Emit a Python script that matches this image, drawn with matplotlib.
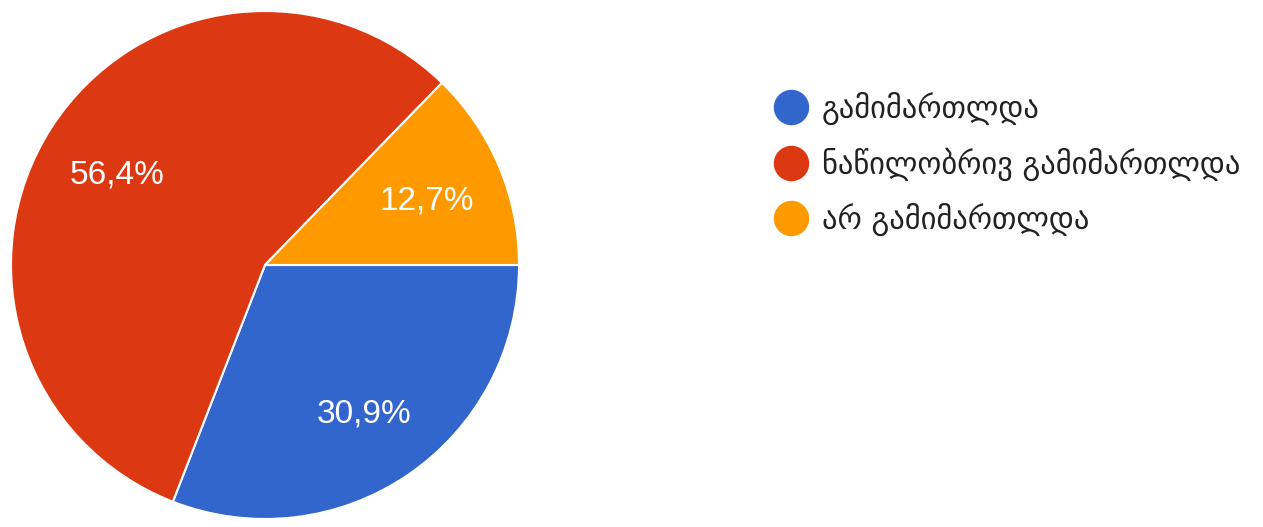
import matplotlib.pyplot as plt
from matplotlib.lines import Line2D

labels = ["გამიმართლდა", "ნაწილობრივ გამიმართლდა", "არ გამიმართლდა"]
counts = [17, 31, 7]
colors = ["#3366CC", "#DC3912", "#FF9900"]


def pct_fmt(p):
    return f"{p:.1f}%".replace(".", ",")


fig = plt.figure(figsize=(12.63, 5.27), dpi=100)

# pie centred near (265, 265) px, radius ~254 px
ax = fig.add_axes([11 / 1263, 8 / 527, 508 / 1263, 508 / 527])
wedges, texts, autotexts = ax.pie(
    counts,
    colors=colors,
    startangle=0,
    counterclock=False,
    autopct=pct_fmt,
    pctdistance=0.69,
    wedgeprops=dict(edgecolor="white", linewidth=1.5),
    textprops=dict(color="white", fontsize=24, family="Liberation Sans"),
)
# nudge labels down a little, like the original
for t in autotexts:
    x, y = t.get_position()
    t.set_position((x, y - 0.018))
ax.set_xlim(-1, 1)
ax.set_ylim(-1, 1)
ax.set_aspect("equal")

handles = [
    Line2D([], [], marker="o", linestyle="none", markersize=24.5,
           markerfacecolor=c, markeredgecolor=c)
    for c in colors
]
fig.legend(
    handles, labels,
    loc="upper left",
    bbox_to_anchor=(773 / 1263, 1 - 92 / 527),
    frameon=False,
    prop=dict(family="DejaVu Sans", size=22),
    labelspacing=0.72,
    handletextpad=0.45,
    handlelength=1.15,
    borderpad=0,
    borderaxespad=0,
    labelcolor="#222222",
)

fig.savefig("out.png", dpi=100)
